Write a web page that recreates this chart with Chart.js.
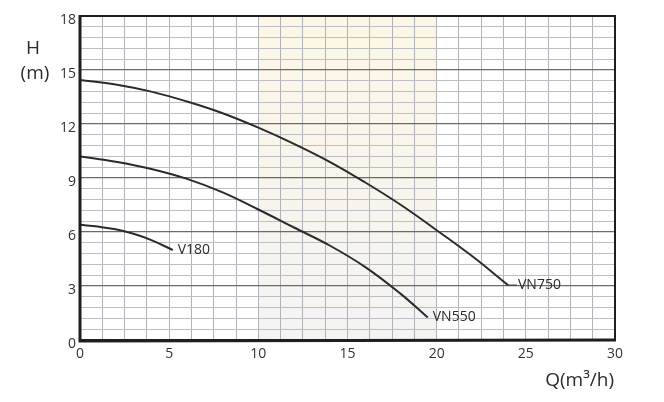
<!DOCTYPE html>
<html>
<head>
<meta charset="utf-8">
<script src="https://cdn.jsdelivr.net/npm/chart.js@4/dist/chart.umd.min.js"></script>
<style>
  html, body { margin: 0; padding: 0; background: #fff; }
  #wrap { width: 664px; height: 402px; }
</style>
</head>
<body>
<div id="wrap"><canvas id="chart"></canvas></div>
<script>
// pump curves, Q in m3/h, H in m
const v180Q = [0, 1, 2, 3, 4, 5.2];
const v180H = [6.4, 6.3, 6.15, 5.9, 5.55, 5.0];
const vn550Q = [0, 2, 4, 6, 8, 10, 12, 14, 16, 18, 19.5];
const vn550H = [10.2, 9.9, 9.5, 8.95, 8.2, 7.25, 6.25, 5.25, 4.05, 2.55, 1.25];
const vn750Q = [0, 2, 4, 6, 8, 10, 12, 14, 16, 18, 20, 22, 24];
const vn750H = [14.45, 14.2, 13.8, 13.25, 12.6, 11.8, 10.9, 9.9, 8.75, 7.5, 6.1, 4.65, 3.05];
const seriesNames = ['V180', 'VN550', 'VN750'];
const xTickLabels = [0, 5, 10, 15, 20, 25, 30];
const yTickLabels = [0, 3, 6, 9, 12, 15, 18];
const bandRange = [10, 20];

const ink = '#2b2b2b';
const tickFont = { family: 'Open Sans', size: 14 };

function pts(qs, hs) {
    return qs.map((q, i) => ({ x: q, y: hs[i] }));
}

function isLabelTick(v, list) {
    return list.some(t => Math.abs(t - v) < 1e-6);
}

const bandPlugin = {
    id: 'band',
    beforeDraw(chart) {
        const { ctx, chartArea, scales } = chart;
        const x1 = scales.x.getPixelForValue(bandRange[0]);
        const x2 = scales.x.getPixelForValue(bandRange[1]);
        const g = ctx.createLinearGradient(0, chartArea.top, 0, chartArea.bottom);
        g.addColorStop(0, 'rgba(250,236,200,0.45)');
        g.addColorStop(1, 'rgba(232,232,232,0.5)');
        ctx.save();
        ctx.fillStyle = g;
        ctx.fillRect(x1, chartArea.top, x2 - x1, chartArea.bottom - chartArea.top);
        ctx.restore();
    }
};

const decorPlugin = {
    id: 'decor',
    afterDraw(chart) {
        const { ctx, chartArea } = chart;
        ctx.save();
        // frame
        ctx.strokeStyle = '#1e1e1e';
        ctx.lineWidth = 2;
        ctx.strokeRect(chartArea.left, chartArea.top, chartArea.right - chartArea.left, chartArea.bottom - chartArea.top);
        ctx.lineWidth = 3;
        ctx.beginPath();
        ctx.moveTo(chartArea.left, chartArea.top - 1);
        ctx.lineTo(chartArea.left, chartArea.bottom + 1);
        ctx.lineTo(chartArea.right + 1, chartArea.bottom);
        ctx.stroke();

        // series labels at curve ends
        ctx.fillStyle = ink;
        ctx.strokeStyle = ink;
        ctx.lineWidth = 1;
        ctx.font = '14px "Open Sans"';
        ctx.textBaseline = 'middle';
        ctx.textAlign = 'left';
        chart.data.datasets.forEach((ds, i) => {
            const meta = chart.getDatasetMeta(i);
            const last = meta.data[meta.data.length - 1];
            let x = last.x;
            if (i === 2) {
                ctx.beginPath();
                ctx.moveTo(x, last.y);
                ctx.lineTo(x + 9, last.y);
                ctx.stroke();
                x += 10;
            } else {
                x += 5;
            }
            ctx.fillText(ds.label, x, last.y);
        });

        // axis titles
        ctx.font = '19px "Open Sans"';
        ctx.textAlign = 'center';
        ctx.fillText('H', 33, 49);
        ctx.fillText('(m)', 35, 74);
        ctx.textAlign = 'right';
        ctx.fillText('Q(m³/h)', 614, 381);
        ctx.restore();
    }
};

document.addEventListener('DOMContentLoaded', () => {
    const canvas = document.getElementById('chart');

    const lineStyle = {
        borderColor: ink,
        borderWidth: 2,
        pointRadius: 0,
        showLine: true,
        tension: 0.4,
        fill: false
    };

    new Chart(canvas, {
        type: 'scatter',
        data: {
            datasets: [
                Object.assign({ label: seriesNames[0], data: pts(v180Q, v180H) }, lineStyle),
                Object.assign({ label: seriesNames[1], data: pts(vn550Q, vn550H) }, lineStyle),
                Object.assign({ label: seriesNames[2], data: pts(vn750Q, vn750H) }, lineStyle)
            ]
        },
        options: {
            responsive: true,
            maintainAspectRatio: false,
            animation: false,
            layout: { padding: { top: 16, right: 49, left: 0, bottom: 0 } },
            plugins: {
                legend: { display: false },
                tooltip: { enabled: false }
            },
            scales: {
                x: {
                    type: 'linear',
                    min: 0,
                    max: 30,
                    afterFit(s) { s.height = 62; },
                    border: { display: false },
                    grid: {
                        color: '#b0b2b8',
                        lineWidth: 1,
                        drawTicks: false
                    },
                    ticks: {
                        stepSize: 1.25,
                        autoSkip: false,
                        maxRotation: 0,
                        padding: 6,
                        color: '#333',
                        font: tickFont,
                        callback: v => isLabelTick(v, xTickLabels) ? String(Math.round(v)) : ''
                    }
                },
                y: {
                    type: 'linear',
                    min: 0,
                    max: 18,
                    afterFit(s) { s.width = 80; },
                    border: { display: false },
                    grid: {
                        color: ctx => isLabelTick(ctx.tick.value, yTickLabels) ? '#6b6b6b' : '#bcbec3',
                        lineWidth: ctx => isLabelTick(ctx.tick.value, yTickLabels) ? 1.3 : 1,
                        drawTicks: false
                    },
                    ticks: {
                        stepSize: 0.6,
                        autoSkip: false,
                        padding: 4,
                        labelOffset: 4,
                        color: '#333',
                        font: tickFont,
                        callback: v => isLabelTick(v, yTickLabels) ? String(Math.round(v)) : ''
                    }
                }
            }
        },
        plugins: [bandPlugin, decorPlugin]
    });
});
</script>
</body>
</html>
